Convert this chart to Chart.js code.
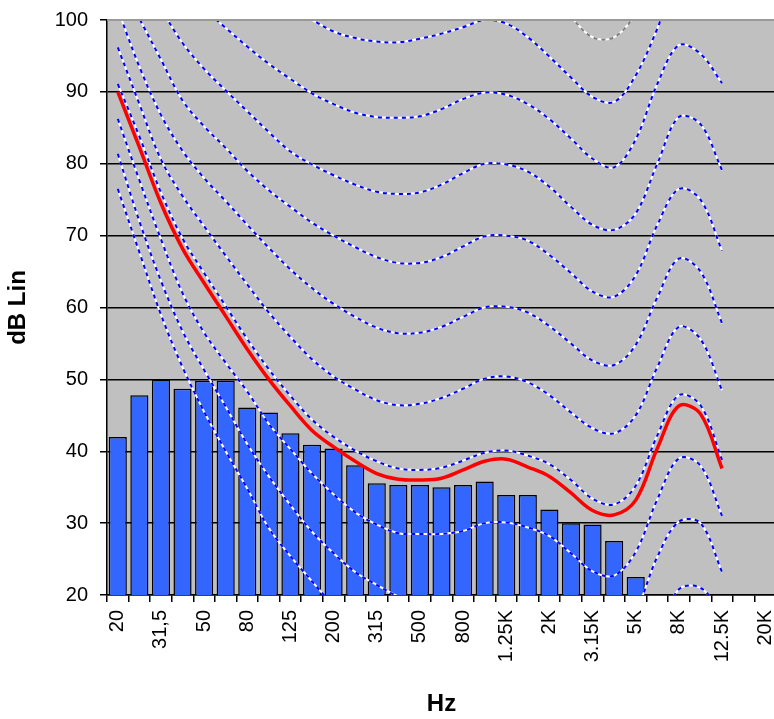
<!DOCTYPE html>
<html>
<head>
<meta charset="utf-8">
<script src="https://cdn.jsdelivr.net/npm/chart.js@4"></script>
<style>
html,body{margin:0;padding:0;background:#fff;overflow:hidden;}
#wrap{position:absolute;left:0;top:0;width:780px;height:719px;}
</style>
</head>
<body>
<div id="wrap"><canvas id="c" width="780" height="719"></canvas></div>
<script>
// Categories (1/3 octave bands)
const bands = ['20','25','31,5','40','50','63','80','100','125','160','200','250','315','400','500','630','800','1K','1.25K','1.6K','2K','2.5K','3.15K','4K','5K','6.3K','8K','10K','12.5K','16K','20K'];
// Measured levels (bars)
const levels = [42.0,47.8,50.0,48.7,49.8,49.8,46.1,45.4,42.5,40.9,40.4,38.05,35.55,35.3,35.3,35.0,35.3,35.8,33.9,33.9,31.9,30.0,29.8,27.5,22.5,null,null,null,null,null,null];
// Red curve
const redCurve = [90,82.3,74.5,68.2,63.4,58.8,54.2,50.0,46.3,42.9,40.6,38.6,36.9,36.1,36.0,36.25,37.4,38.6,38.9,37.8,36.5,34.2,31.75,31.15,33.2,40.4,46.3,45.2,37.6];
// Equal loudness contours (20 Hz .. 12.5 kHz)
const phon10 = [76.5,67.7,59.0,51.7,45.5,40.0,34.8,29.3,25.4,21.9,18.5,15.5,13.3,11.5,10.2,9.5,9.3,10.0,10.2,9.5,8.0,6.0,3.5,2.8,6.5,14.5,20.8,21.0,17.5];
const phon20 = [81.4,72.0,63.7,56.7,51.3,46.2,41.0,36.5,32.5,28.8,25.8,23.2,21.4,19.8,19.0,18.6,18.8,19.4,19.5,18.8,17.5,15.5,13.2,12.6,17.5,25.3,30.2,30.0,23.2];
const phon30 = [86.25,77.7,69.5,62.0,56.5,52.3,48.3,43.8,40.3,36.9,34.0,31.5,29.8,28.6,28.5,28.5,28.9,30.0,30.1,29.4,28.2,25.8,23.3,22.7,26.0,33.3,39.0,38.0,31.0];
const phon40 = [91.1,83.8,76.0,69.6,64.8,60.2,55.6,51.4,47.7,44.4,42.0,40.1,38.6,37.6,37.4,37.7,38.7,39.8,40.1,39.4,38.2,36.0,33.4,32.6,35.2,42.2,47.8,46.4,38.8];
const phon50 = [96.2,88.3,80.6,75.5,71.3,67.2,63.2,59.3,55.9,52.8,50.4,48.6,47.1,46.4,46.6,47.4,48.7,50.1,50.4,49.6,47.8,45.4,43.2,42.5,45.0,51.7,57.3,55.6,48.5];
const phon60 = [101.5,93.5,86.8,81.8,78.0,74.8,71.5,68.3,65.3,62.7,60.5,58.7,57.2,56.4,56.5,57.3,58.7,60.0,60.1,59.3,57.4,55.0,52.6,52.0,54.8,61.4,66.8,65.0,57.8];
const phon70 = [106,100.2,94.5,88.8,85.2,82.2,79.0,76.3,74,71.8,70,68.4,67.0,66.2,66.2,67.0,68.5,69.9,70,69.3,67.3,64.8,62.2,61.5,64.5,71.5,76.5,75.0,67.9];
const phon80 = [111,106,101.5,96.8,93.2,90.2,87.3,84.4,81.7,79.9,78.4,77.1,76.1,75.8,76.0,77.1,78.7,80.0,79.9,78.9,76.8,74.0,71.5,70.8,73.1,80.0,86.5,85.5,79.1];
const phon90 = [116,111,107,104,101.5,98.9,96.3,93.9,91.8,89.8,88.3,87.1,86.5,86.4,86.6,87.6,89.0,89.9,89.6,88.3,86.2,83.5,80.7,79.5,83.4,91.1,96.5,95.3,91.2];
const phon100 = [121,117,113,110,107.5,105.5,104,102.5,101.2,100,98.4,97.5,97.0,96.9,97.4,98.1,99.0,100,99.5,97.6,94.9,92.0,89.3,88.6,92.3,98.8,106.5,105.3,101];
const phon110 = [126,122,119,116,114,112.5,111,110,109.5,109,108.5,108,107.5,107.3,107.5,108,109,110,109.5,107.5,104.5,100.5,97.6,97.6,101,108,116,115,111];
const yTicks = [20,30,40,50,60,70,80,90,100];

const contours = [phon10,phon20,phon30,phon40,phon50,phon60,phon70,phon80,phon90,phon100];

function contourSets(data, dashColor){
  return [
    {type:'line', data:data, borderColor:dashColor, borderWidth:2, borderDash:[4,4], pointRadius:0, tension:0.35, order:2, fill:false},
    {type:'line', data:data, borderColor:'#ffffff', borderWidth:2, pointRadius:0, tension:0.35, order:3, fill:false}
  ];
}

const datasets = [];
datasets.push({type:'line', data:redCurve, borderColor:'#ff0000', borderWidth:3.5, pointRadius:0, tension:0.35, order:1, fill:false});
contours.forEach(c => contourSets(c,'#0000ff').forEach(d => datasets.push(d)));
contourSets(phon110,'#808080').forEach(d => datasets.push(d));
datasets.push({type:'bar', data:levels, backgroundColor:'#3366ff', borderColor:'#000000', borderWidth:1.5, barPercentage:0.84, categoryPercentage:1.0, order:10});

const bgPlugin = {
  id:'bg',
  beforeDraw(chart){
    const {ctx, chartArea:a} = chart;
    ctx.save();
    ctx.fillStyle = '#ffffff';
    ctx.fillRect(0,0,chart.width,chart.height);
    ctx.fillStyle = '#c0c0c0';
    ctx.fillRect(a.left, a.top, a.right-a.left, a.bottom-a.top);
    ctx.restore();
  },
  afterDraw(chart){
    const {ctx, chartArea:a} = chart;
    ctx.save();
    ctx.strokeStyle = '#999999';
    ctx.lineWidth = 2;
    ctx.beginPath();
    ctx.moveTo(a.left, a.top);
    ctx.lineTo(a.right, a.top);
    ctx.stroke();
    ctx.restore();
  }
};

new Chart(document.getElementById('c'), {
  type:'bar',
  data:{labels:bands, datasets:datasets},
  plugins:[bgPlugin],
  options:{
    responsive:false,
    animation:false,
    devicePixelRatio:1,
    layout:{autoPadding:false, padding:{top:20, right:4, bottom:0, left:0}},
    plugins:{legend:{display:false}, tooltip:{enabled:false}},
    elements:{line:{capBezierPoints:false}},
    scales:{
      x:{
        offset:true,
        grid:{display:true, drawOnChartArea:false, drawTicks:true, tickLength:7, color:'#000000', lineWidth:1.5, offset:true},
        border:{display:true, color:'#000000', width:1.5},
        ticks:{
          autoSkip:false, maxRotation:90, minRotation:90, padding:8, color:'#000000',
          font:{family:'Liberation Sans, Arial, sans-serif', size:20},
          callback:function(v, i){ return i % 2 === 0 ? bands[i] : ''; }
        },
        title:{display:true, text:'Hz', color:'#000000', font:{family:'Liberation Sans, Arial, sans-serif', size:24, weight:'bold'}, padding:{top:0,bottom:0}},
        afterFit:function(s){ s.height = 124; s.paddingLeft = 0; s.paddingRight = 0; }
      },
      y:{
        min:20, max:100,
        afterBuildTicks:function(s){ s.ticks = yTicks.map(v => ({value:v})); },
        grid:{color:function(c){ return c.tick && c.tick.value === 100 ? 'rgba(0,0,0,0)' : '#000000'; }, lineWidth:1.5, drawTicks:true, tickLength:7, tickColor:'#000000'},
        border:{display:true, color:'#000000', width:1.5},
        ticks:{padding:12, color:'#000000', font:{family:'Liberation Sans, Arial, sans-serif', size:20}},
        title:{display:true, text:'dB Lin', color:'#000000', font:{family:'Liberation Sans, Arial, sans-serif', size:24, weight:'bold'}, padding:{top:4,bottom:0}},
        afterFit:function(s){ s.width = 107; s.paddingTop = 0; s.paddingBottom = 0; }
      }
    }
  }
});
</script>
</body>
</html>
